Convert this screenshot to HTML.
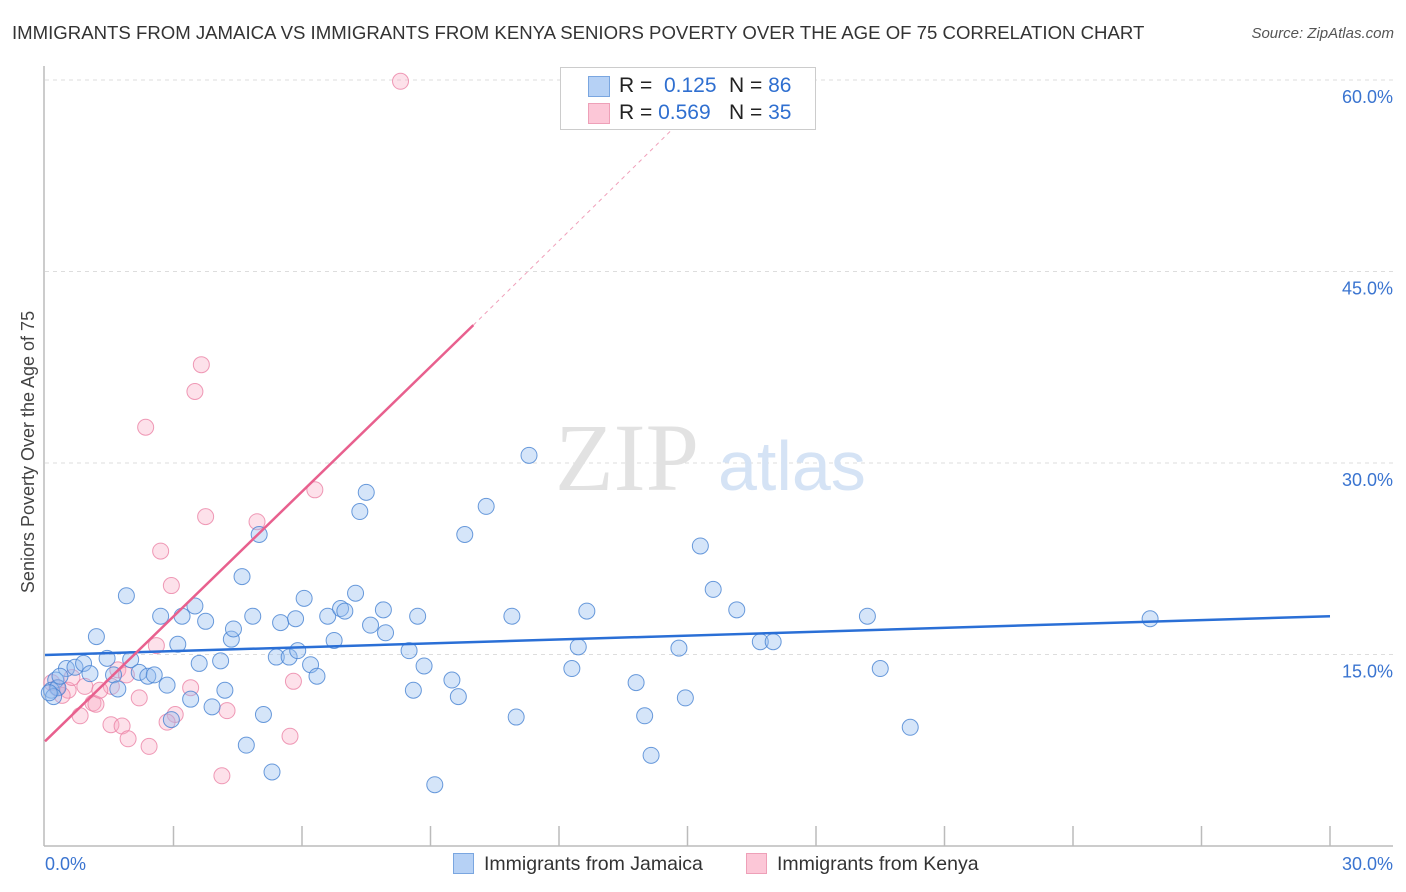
<!DOCTYPE html>
<html><head><meta charset="utf-8">
<style>
body{margin:0;background:#fff;font-family:"Liberation Sans",sans-serif;}
#wrap{position:relative;width:1406px;height:892px;overflow:hidden;}
.t{position:absolute;white-space:nowrap;}
</style></head>
<body>
<div id="wrap">
<div class="t" style="left:12px;top:22px;font-size:18.6px;color:#333;">IMMIGRANTS FROM JAMAICA VS IMMIGRANTS FROM KENYA SENIORS POVERTY OVER THE AGE OF 75 CORRELATION CHART</div>
<div class="t" style="right:12px;top:25px;font-size:15px;color:#555;font-style:italic;">Source: ZipAtlas.com</div>
<svg id="svg" width="1406" height="892" style="position:absolute;left:0;top:0"></svg>
</div>
<script>
const xTickVals=[0,30];
const yTickVals=[15,30,45,60];
const blueX=[1.9,1.2,0.5,0.7,0.9,1.05,1.45,1.6,1.7,2.0,2.2,2.4,2.55,2.7,2.85,2.95,3.1,3.2,3.4,3.5,3.6,3.75,3.9,4.1,4.2,4.35,4.4,4.6,4.7,4.85,5.0,5.1,5.3,5.4,5.5,5.7,5.85,5.9,6.05,6.2,6.35,6.6,6.75,6.9,7.0,7.25,7.35,7.5,7.6,7.9,7.95,8.5,8.6,8.7,8.85,9.1,9.5,9.65,9.8,10.3,10.9,11.0,11.3,12.3,12.45,12.65,13.8,14.0,14.15,14.8,14.95,15.3,15.6,16.15,16.7,17.0,19.2,19.5,20.2,25.8,0.25,0.15,0.3,0.2,0.35,0.1];
const blueY=[19.6,16.4,13.9,14.0,14.3,13.5,14.7,13.4,12.3,14.6,13.6,13.3,13.4,18.0,12.6,9.9,15.8,18.0,11.5,18.8,14.3,17.6,10.9,14.5,12.2,16.2,17.0,21.1,7.9,18.0,24.4,10.3,5.8,14.8,17.5,14.8,17.8,15.3,19.4,14.2,13.3,18.0,16.1,18.6,18.4,19.8,26.2,27.7,17.3,18.5,16.7,15.3,12.2,18.0,14.1,4.8,13.0,11.7,24.4,26.6,18.0,10.1,30.6,13.9,15.6,18.4,12.8,10.2,7.1,15.5,11.6,23.5,20.1,18.5,16.0,16.0,18.0,13.9,9.3,17.8,13.0,12.2,12.4,11.7,13.3,12.0];
const pinkX=[8.3,3.65,3.5,2.35,3.75,4.95,6.3,2.7,2.95,2.6,1.7,1.9,1.55,5.8,3.4,2.2,1.12,1.19,0.82,3.04,4.25,2.85,1.54,1.8,1.94,2.43,5.72,4.13,0.54,0.4,0.28,0.16,0.63,0.93,1.28];
const pinkY=[59.9,37.7,35.6,32.8,25.8,25.4,27.9,23.1,20.4,15.7,13.8,13.4,12.5,12.9,12.4,11.6,11.2,11.1,10.2,10.3,10.6,9.7,9.5,9.4,8.4,7.8,8.6,5.5,12.2,11.8,12.4,12.8,13.2,12.5,12.2];
const blueLine=[[0,14.96],[30,18.0]];
const pinkLine=[[0,8.2],[10.0,40.8]];
const pinkDash=[[10.0,40.8],[15.3,58.3]];

const L=45,R=1330,B=846,T=80;
const xs=v=>L+(v-0)/30*(R-L);
const ys=v=>B-(v/60)*(B-T);
const svg=document.getElementById('svg');
const NS='http://www.w3.org/2000/svg';
function mk(tag,attrs,parent){const e=document.createElementNS(NS,tag);for(const k in attrs)e.setAttribute(k,attrs[k]);(parent||svg).appendChild(e);return e;}

yTickVals.forEach(v=>{
  const g=mk('line',{x1:L,x2:1393,y1:ys(v),y2:ys(v),stroke:'#ddd','stroke-dasharray':'4,4'});
  
  
  const t=mk('text',{x:1393,y:ys(v)+23,'text-anchor':'end','font-size':18,fill:'#3a74d0','font-family':'Liberation Sans, sans-serif'});
  t.textContent=v.toFixed(1)+'%';
  
  
});
const ax=mk('line',{x1:44,x2:44,y1:66,y2:846,stroke:'#bbb','stroke-width':1.5});


const bx=mk('line',{x1:44,x2:1393,y1:846,y2:846,stroke:'#bbb','stroke-width':1.5});


for(let i=1;i<=10;i++){
  const tk=mk('line',{x1:xs(i*3),x2:xs(i*3),y1:826,y2:846,stroke:'#bbb','stroke-width':1.5});
  
  
}
xTickVals.forEach((v,i)=>{
  const t=mk('text',{x:i==0?45:1393,y:870,'text-anchor':i==0?'start':'end','font-size':18,fill:'#3a74d0','font-family':'Liberation Sans, sans-serif'});
  t.textContent=v.toFixed(1)+'%';
  
  
});
const yt=mk('text',{x:34,y:452,'text-anchor':'middle','font-size':18,fill:'#444',transform:'rotate(-90 34 452)','font-family':'Liberation Sans, sans-serif'});
yt.textContent='Seniors Poverty Over the Age of 75';


const wm=mk('text',{x:555,y:490,'font-size':96,fill:'#e2e2e2','font-family':'Liberation Serif, serif'});
wm.textContent='ZIP';


const wm2=mk('text',{x:718,y:490,'font-size':70,fill:'#d5e3f5','font-family':'Liberation Sans, sans-serif'});
wm2.textContent='atlas';


pinkX.forEach((x,i)=>{
  const c=mk('circle',{cx:xs(x),cy:ys(pinkY[i]),r:8,fill:'rgba(248,170,195,0.35)',stroke:'rgba(235,130,165,0.8)','stroke-width':1});
  
  
});
blueX.forEach((x,i)=>{
  const c=mk('circle',{cx:xs(x),cy:ys(blueY[i]),r:8,fill:'rgba(150,190,240,0.4)',stroke:'rgba(70,130,210,0.8)','stroke-width':1});
  
  
});
const bl=mk('line',{x1:xs(blueLine[0][0]),y1:ys(blueLine[0][1]),x2:xs(blueLine[1][0]),y2:ys(blueLine[1][1]),stroke:'#2a6fd6','stroke-width':2.5});


const pl=mk('line',{x1:xs(pinkLine[0][0]),y1:ys(pinkLine[0][1]),x2:xs(pinkLine[1][0]),y2:ys(pinkLine[1][1]),stroke:'#e8608e','stroke-width':2.5});


const pd=mk('line',{x1:xs(pinkDash[0][0]),y1:ys(pinkDash[0][1]),x2:xs(pinkDash[1][0]),y2:ys(pinkDash[1][1]),stroke:'#f0a0ba','stroke-width':1,'stroke-dasharray':'4,4'});


</script>
<div class="t" style="left:560px;top:67px;width:256px;height:63px;background:#fff;border:1px solid #ccc;box-sizing:border-box;font-size:21px;color:#222;">
  <div style="position:absolute;left:27px;top:8px;width:20px;height:19px;background:#b6d1f5;border:1px solid #7aa6e0;"></div>
  <div style="position:absolute;left:58px;top:6px;">R = <span style="color:#2f6fd0;">&nbsp;0.125</span></div>
  <div style="position:absolute;left:168px;top:6px;">N = <span style="color:#2f6fd0;">86</span></div>
  <div style="position:absolute;left:27px;top:35px;width:20px;height:19px;background:#fcc7d7;border:1px solid #eea0b8;"></div>
  <div style="position:absolute;left:58px;top:33px;">R = <span style="color:#2f6fd0;">0.569</span></div>
  <div style="position:absolute;left:168px;top:33px;">N = <span style="color:#2f6fd0;">35</span></div>
</div>
<div class="t" style="left:453px;top:853px;font-size:19.5px;color:#333;">
  <span style="display:inline-block;width:19px;height:19px;background:#b6d1f5;border:1px solid #7aa6e0;vertical-align:-4px;margin-right:10px;"></span>Immigrants from Jamaica</div>
<div class="t" style="left:746px;top:853px;font-size:19.5px;color:#333;">
  <span style="display:inline-block;width:19px;height:19px;background:#fcc7d7;border:1px solid #eea0b8;vertical-align:-4px;margin-right:10px;"></span>Immigrants from Kenya</div>
</body></html>
